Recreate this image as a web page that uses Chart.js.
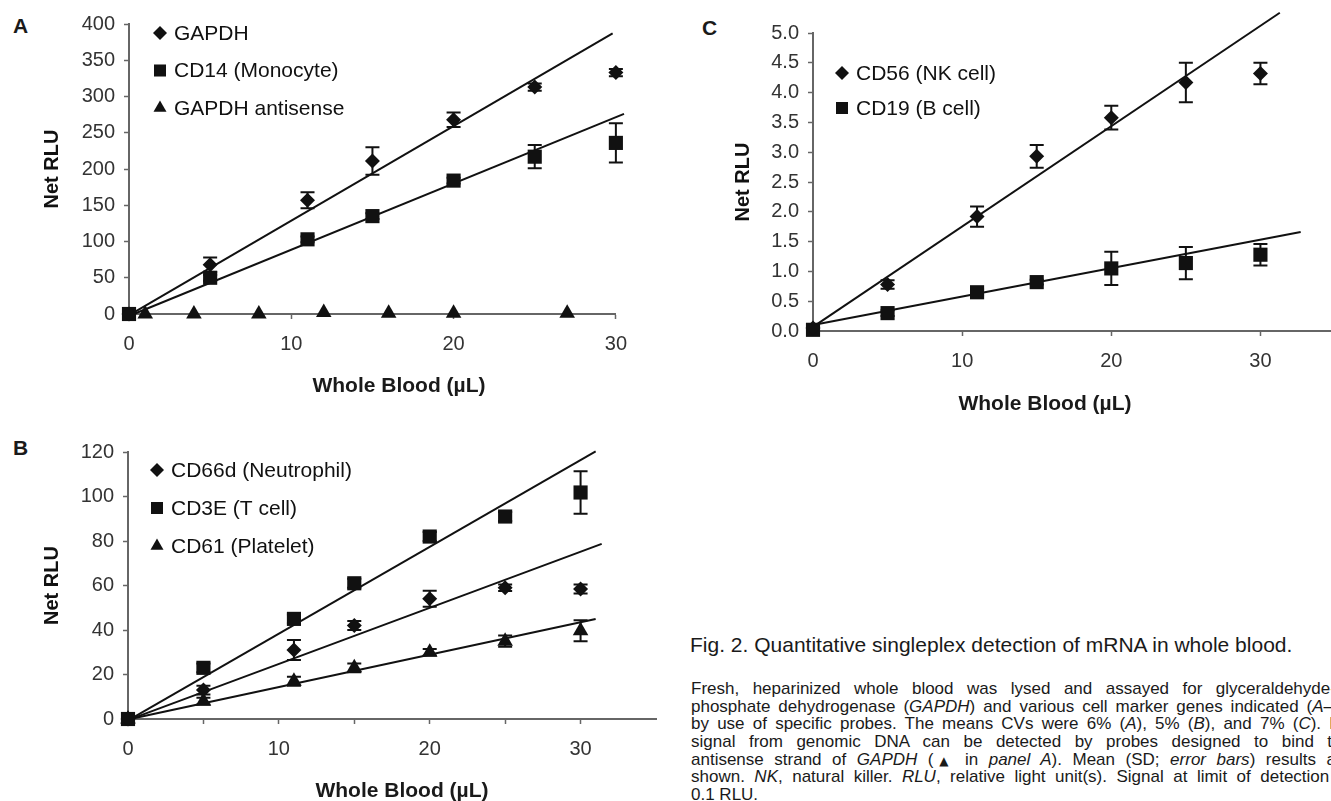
<!DOCTYPE html>
<html lang="en">
<head>
<meta charset="UTF-8">
<title>Fig. 2. Quantitative singleplex detection of mRNA in whole blood</title>
<script src="https://cdn.jsdelivr.net/npm/chart.js"></script>
<style>
    body {
        margin: 0;
        width: 1331px;
        height: 801px;
        overflow: hidden;
        position: relative;
        background: #fff;
        color: #1a1a1a;
        font-family: "Liberation Sans", Arial, sans-serif;
    }
    canvas { position: absolute; }
    .panel-letter {
        position: absolute;
        font-weight: bold;
        font-size: 21px;
        line-height: 21px;
    }
    .x-title {
        position: absolute;
        font-weight: bold;
        font-size: 21px;
        line-height: 21px;
        white-space: nowrap;
        transform: translateX(-50%);
    }
    #capTitle {
        position: absolute;
        left: 690px;
        top: 634px;
        font-size: 21px;
        line-height: 21px;
        white-space: nowrap;
    }
    #capBody {
        position: absolute;
        left: 691px;
        top: 680px;
        width: 660px;
        font-size: 17px;
        line-height: 17.7px;
    }
    .ln { text-align: justify; text-align-last: justify; height: 17.7px; }
    .ln.end { text-align-last: left; }
    .tri { font-family: "DejaVu Sans", sans-serif; font-size: 12px; }
</style>
</head>
<body>
<div class="panel-letter" style="left:13px;top:15px">A</div>
<div class="panel-letter" style="left:13px;top:437px">B</div>
<div class="panel-letter" style="left:702px;top:17px">C</div>

<canvas id="chartA" width="640" height="404" style="left:0;top:0"></canvas>
<canvas id="chartB" width="680" height="389" style="left:0;top:420px"></canvas>
<canvas id="chartC" width="665" height="421" style="left:680px;top:0"></canvas>

<div class="x-title" style="left:399px;top:374px">Whole Blood (µL)</div>
<div class="x-title" style="left:402px;top:779px">Whole Blood (µL)</div>
<div class="x-title" style="left:1045px;top:392px">Whole Blood (µL)</div>

<div id="capTitle">Fig. 2. Quantitative singleplex detection of mRNA in whole blood.</div>
<div id="capBody">
    <div class="ln">Fresh, heparinized whole blood was lysed and assayed for glyceraldehyde-3-</div>
    <div class="ln">phosphate dehydrogenase (<i>GAPDH</i>) and various cell marker genes indicated (<i>A</i>–<i>C</i>)</div>
    <div class="ln">by use of specific probes. The means CVs were 6% (<i>A</i>), 5% (<i>B</i>), and 7% (<i>C</i>). No</div>
    <div class="ln">signal from genomic DNA can be detected by probes designed to bind the</div>
    <div class="ln">antisense strand of <i>GAPDH</i> (<span class="tri">▲</span> in <i>panel A</i>). Mean (SD; <i>error bars</i>) results are</div>
    <div class="ln">shown. <i>NK</i>, natural killer. <i>RLU</i>, relative light unit(s). Signal at limit of detection is</div>
    <div class="ln end">0.1 RLU.</div>
</div>

<script>
// ---- panel A ----
const xA = [0, 5, 11, 15, 20, 25, 30];
const gapdh = [0, 68, 157, 211, 268, 313, 333];
const gapdhSd = [0, 10, 11, 19, 10, 5, 5];
const cd14 = [0, 50, 103, 135, 184, 217, 236];
const cd14Sd = [0, 4, 4, 4, 4, 16, 27];
const xAnti = [1, 4, 8, 12, 16, 20, 27];
const antisense = [0, 0, 0, 2, 1, 1, 1];
const gapdhFitX = [0.2, 29.8], gapdhFitY = [1, 387];
const cd14FitX = [0.3, 30.5], cd14FitY = [0, 276];

// ---- panel B ----
const xB = [0, 5, 11, 15, 20, 25, 30];
const cd66d = [0, 13, 31, 42, 54, 59, 58.4];
const cd66dSd = [0, 2, 4.5, 2, 3.6, 1.5, 2];
const cd3e = [0, 23, 45, 61, 82, 91, 101.8];
const cd3eSd = [0, 2, 2, 2, 2, 2, 9.5];
const cd61 = [0, 8, 17, 23, 30, 35, 39.7];
const cd61Sd = [0, 1.5, 2, 2, 1.5, 2.5, 4.7];
const cd3eFitX = [0.3, 31.0], cd3eFitY = [0.5, 120.3];
const cd66dFitX = [0.3, 31.4], cd66dFitY = [0.3, 78.7];
const cd61FitX = [0.3, 31.0], cd61FitY = [0.2, 44.9];

// ---- panel C ----
const xC = [0, 5, 11, 15, 20, 25, 30];
const cd56 = [0.05, 0.78, 1.92, 2.93, 3.58, 4.17, 4.32];
const cd56Sd = [0, 0.07, 0.17, 0.19, 0.2, 0.33, 0.18];
const cd19 = [0.02, 0.3, 0.65, 0.82, 1.05, 1.14, 1.28];
const cd19Sd = [0, 0.05, 0.05, 0.04, 0.28, 0.27, 0.18];
const cd56FitX = [0, 31.3], cd56FitY = [0.07, 5.34];
const cd19FitX = [0, 32.7], cd19FitY = [0.1, 1.66];

Chart.defaults.font.family = '"Liberation Sans", Arial, sans-serif';
Chart.defaults.color = '#222';

const INK = '#111';
const AXIS = '#666';

function pts(xs, ys) {
    return xs.map((x, i) => ({ x: x, y: ys[i] }));
}

function markers(label, xs, ys, sd, style, r) {
    return {
        label: label, data: pts(xs, ys), sd: sd,
        pointStyle: style, pointRadius: r,
        pointBackgroundColor: INK, pointBorderWidth: 0,
        showLine: false, clip: false
    };
}

function fit(xs, ys) {
    return {
        data: pts(xs, ys), showLine: true,
        borderColor: INK, borderWidth: 2,
        pointRadius: 0, clip: false
    };
}

// SD error bars, drawn under the markers
const errorBars = {
    id: 'errorBars',
    beforeDatasetsDraw(chart) {
        const { ctx, scales: { x, y } } = chart;
        ctx.save();
        ctx.strokeStyle = INK;
        ctx.lineWidth = 2;
        chart.data.datasets.forEach(ds => {
            if (!ds.sd) return;
            ds.data.forEach((p, i) => {
                const e = ds.sd[i];
                if (!e) return;
                const px = x.getPixelForValue(p.x);
                const top = y.getPixelForValue(p.y + e);
                const bot = y.getPixelForValue(p.y - e);
                ctx.beginPath();
                ctx.moveTo(px, top); ctx.lineTo(px, bot);
                ctx.moveTo(px - 7, top); ctx.lineTo(px + 7, top);
                ctx.moveTo(px - 7, bot); ctx.lineTo(px + 7, bot);
                ctx.stroke();
            });
        });
        ctx.restore();
    }
};

// legend sitting inside the plot, top-left
const legendSize = { rectRot: 7, rect: 8.5, triangle: 7.5 };
const panelLegend = {
    id: 'panelLegend',
    afterDatasetsDraw(chart, args, opts) {
        const { ctx, chartArea } = chart;
        ctx.save();
        ctx.font = '21px "Liberation Sans", Arial, sans-serif';
        ctx.textBaseline = 'middle';
        ctx.fillStyle = INK;
        let row = 0;
        chart.data.datasets.forEach(ds => {
            if (!ds.label) return;
            const x = chartArea.left + opts.left;
            const y = chartArea.top + opts.top + row * opts.gap;
            Chart.helpers.drawPoint(ctx, { pointStyle: ds.pointStyle, radius: legendSize[ds.pointStyle], rotation: 0, borderWidth: 0 }, x, y);
            ctx.fillText(ds.label, x + 14, y + 1);
            row++;
        });
        ctx.restore();
    }
};

function panelOptions(o) {
    const grid = (hideAbove) => ({
        drawOnChartArea: false,
        tickLength: 5,
        tickWidth: 1.5,
        tickColor: c => (hideAbove !== undefined && c.tick && c.tick.value > hideAbove) ? 'rgba(0,0,0,0)' : AXIS
    });
    return {
        responsive: false,
        animation: false,
        events: [],
        layout: { padding: { top: o.padTop, right: o.padRight, left: 0, bottom: 0 } },
        plugins: {
            legend: { display: false },
            tooltip: { enabled: false },
            panelLegend: o.legend
        },
        scales: {
            x: {
                type: 'linear', min: 0, max: o.xMax,
                afterFit: s => { s.height = 90; },
                ticks: {
                    stepSize: o.xStep, includeBounds: false, autoSkip: false, maxRotation: 0,
                    padding: 13, color: '#333', font: { size: 20 },
                    callback: v => (v % 10 === 0 && v <= 30) ? v : ''
                },
                grid: grid(30),
                border: { color: AXIS, width: 2 }
            },
            y: {
                type: 'linear', min: 0, max: o.yMax,
                afterFit: s => { s.width = o.yWidth; },
                ticks: {
                    stepSize: o.yStep, padding: 9, color: '#333', font: { size: 20 },
                    callback: o.yFmt
                },
                title: {
                    display: true, text: 'Net RLU', color: INK,
                    font: { size: 20, weight: 'bold' },
                    padding: { top: o.titlePad, bottom: 0 }
                },
                grid: grid(),
                border: { color: AXIS, width: 2 }
            }
        }
    };
}

new Chart(document.getElementById('chartA'), {
    type: 'scatter',
    data: {
        datasets: [
            markers('GAPDH', xA, gapdh, gapdhSd, 'rectRot', 7.5),
            markers('CD14 (Monocyte)', xA, cd14, cd14Sd, 'rect', 10),
            markers('GAPDH antisense', xAnti, antisense, null, 'triangle', 9),
            fit(gapdhFitX, gapdhFitY),
            fit(cd14FitX, cd14FitY)
        ]
    },
    options: panelOptions({
        padTop: 24, padRight: 23, xMax: 30, xStep: 10, yMax: 400, yStep: 50,
        yWidth: 129, titlePad: 40, yFmt: v => v,
        legend: { left: 31, top: 9, gap: 37.5 }
    }),
    plugins: [errorBars, panelLegend]
});

new Chart(document.getElementById('chartB'), {
    type: 'scatter',
    data: {
        datasets: [
            markers('CD66d (Neutrophil)', xB, cd66d, cd66dSd, 'rectRot', 7.5),
            markers('CD3E (T cell)', xB, cd3e, cd3eSd, 'rect', 10),
            markers('CD61 (Platelet)', xB, cd61, cd61Sd, 'triangle', 9),
            fit(cd3eFitX, cd3eFitY),
            fit(cd66dFitX, cd66dFitY),
            fit(cd61FitX, cd61FitY)
        ]
    },
    options: panelOptions({
        padTop: 32, padRight: 24, xMax: 35, xStep: 5, yMax: 120, yStep: 20,
        yWidth: 128, titlePad: 40, yFmt: v => v,
        legend: { left: 29, top: 18, gap: 38 }
    }),
    plugins: [errorBars, panelLegend]
});

new Chart(document.getElementById('chartC'), {
    type: 'scatter',
    data: {
        datasets: [
            markers('CD56 (NK cell)', xC, cd56, cd56Sd, 'rectRot', 7.5),
            markers('CD19 (B cell)', xC, cd19, cd19Sd, 'rect', 10),
            fit(cd56FitX, cd56FitY),
            fit(cd19FitX, cd19FitY)
        ]
    },
    options: panelOptions({
        padTop: 33, padRight: 7, xMax: 35, xStep: 10, yMax: 5, yStep: 0.5,
        yWidth: 133, titlePad: 51, yFmt: v => v.toFixed(1),
        legend: { left: 29, top: 40, gap: 35 }
    }),
    plugins: [errorBars, panelLegend]
});
</script>
</body>
</html>
